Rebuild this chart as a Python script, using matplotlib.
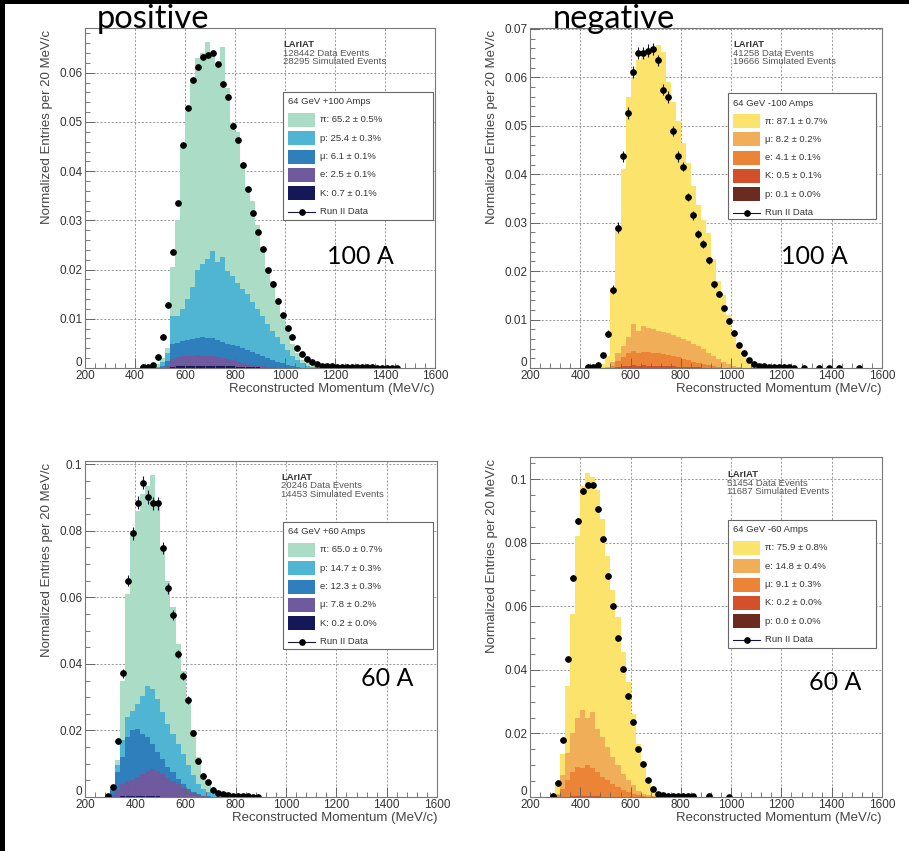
import matplotlib
matplotlib.use("Agg")
import matplotlib.pyplot as plt
import numpy as np
from matplotlib.lines import Line2D
from matplotlib.patches import Rectangle
from matplotlib.ticker import AutoMinorLocator, FuncFormatter, MultipleLocator
from matplotlib.transforms import offset_copy

plt.rcParams["font.family"] = ["Liberation Sans", "DejaVu Sans"]

W, H = 909, 851
BIN = 20  # MeV/c per bin

# ---------------- positive, 100 A ----------------
tl_mc_start = 440
tl_top_pi = [0.0001, 0.0003, 0.0008, 0.0020, 0.0040, 0.0205, 0.0300, 0.0450, 0.0520, 0.0590,
             0.0630, 0.0640, 0.0663, 0.0636, 0.0616, 0.0652, 0.0570, 0.0497, 0.0480, 0.0410,
             0.0367, 0.0340, 0.0290, 0.0245, 0.0204, 0.0177, 0.0136, 0.0102, 0.0075, 0.0048,
             0.0030, 0.0017, 0.0010, 0.0005, 0.0002]
tl_top_p = [0.0000, 0.0001, 0.0003, 0.0012, 0.0030, 0.0105, 0.0105, 0.0120, 0.0140, 0.0165,
            0.0200, 0.0212, 0.0222, 0.0237, 0.0215, 0.0225, 0.0198, 0.0186, 0.0172, 0.0160,
            0.0150, 0.0135, 0.0120, 0.0105, 0.0090, 0.0076, 0.0062, 0.0048, 0.0036, 0.0025,
            0.0016, 0.0010, 0.0005, 0.0002, 0.0001]
tl_top_mu = [0.0, 0.0, 0.0001, 0.0004, 0.0015, 0.0048, 0.0050, 0.0054, 0.0056, 0.0058,
             0.0061, 0.0062, 0.0060, 0.0061, 0.0056, 0.0052, 0.0048, 0.0046, 0.0044, 0.0040,
             0.0036, 0.0033, 0.0029, 0.0025, 0.0021, 0.0017, 0.0013, 0.0010, 0.0007, 0.0004,
             0.0002, 0.0001, 0.0, 0.0, 0.0]
tl_top_e = [0.0, 0.0, 0.0, 0.0001, 0.0004, 0.0018, 0.0022, 0.0024, 0.0025, 0.0025,
            0.0026, 0.0025, 0.0024, 0.0024, 0.0022, 0.0020, 0.0018, 0.0016, 0.0013, 0.0011,
            0.0009, 0.0007, 0.0005, 0.0004, 0.0003, 0.0002, 0.0001, 0.0, 0.0, 0.0,
            0.0, 0.0, 0.0, 0.0, 0.0]
tl_top_K = [0.0, 0.0, 0.0, 0.0, 0.0001, 0.0003, 0.0004, 0.0005, 0.0005, 0.0005,
            0.0005, 0.0005, 0.0005, 0.0005, 0.0005, 0.0004, 0.0004, 0.0004, 0.0003, 0.0003,
            0.0002, 0.0002, 0.0002, 0.0001, 0.0001, 0.0001, 0.0, 0.0, 0.0, 0.0,
            0.0, 0.0, 0.0, 0.0, 0.0]
tl_data_start = 430
tl_data = [0.0002, 0.0003, 0.0006, 0.0022, 0.0063, 0.0129, 0.0235, 0.0335, 0.0454, 0.0529,
           0.0585, 0.0611, 0.0632, 0.0636, 0.0641, 0.0618, 0.0578, 0.0550, 0.0492, 0.0463,
           0.0412, 0.0363, 0.0316, 0.0276, 0.0241, 0.0199, 0.0170, 0.0136, 0.0107, 0.0082,
           0.0063, 0.0041, 0.0029, 0.0019, 0.0012, 0.0008, 0.0005, 0.0004, 0.0004, 0.0003,
           0.0003, 0.0003, 0.0002, 0.0002, 0.0002, 0.0002, 0.0002, 0.0001, 0.0001, 0.0001,
           0.0001, 0.0001]
tl_err = [0.0001, 0.0001, 0.0001, 0.0001, 0.0002, 0.0002, 0.0003, 0.0003, 0.0004, 0.0004,
          0.0004, 0.0004, 0.0004, 0.0004, 0.0004, 0.0004, 0.0004, 0.0004, 0.0004, 0.0004,
          0.0003, 0.0003, 0.0003, 0.0003, 0.0003, 0.0003, 0.0002, 0.0002, 0.0002, 0.0002,
          0.0001, 0.0001, 0.0001, 0.0001, 0.0001, 0.0001, 0.0001, 0.0001, 0.0001, 0.0001,
          0.0001, 0.0001, 0.0001, 0.0001, 0.0001, 0.0001, 0.0001, 0.0001, 0.0001, 0.0001,
          0.0001, 0.0001]
tl_labels = ["π: 65.2 ± 0.5%", "p: 25.4 ± 0.3%", "μ: 6.1 ± 0.1%", "e: 2.5 ± 0.1%", "K: 0.7 ± 0.1%"]

# ---------------- negative, 100 A ----------------
tr_mc_start = 440
tr_top_pi = [0.0001, 0.0003, 0.0008, 0.0025, 0.0165, 0.0290, 0.0410, 0.0560, 0.0600, 0.0636,
             0.0650, 0.0655, 0.0662, 0.0667, 0.0653, 0.0590, 0.0550, 0.0509, 0.0464, 0.0423,
             0.0375, 0.0337, 0.0306, 0.0278, 0.0225, 0.0180, 0.0150, 0.0110, 0.0075, 0.0045,
             0.0025, 0.0012, 0.0005, 0.0002, 0.0001]
tr_top_mu = [0.0, 0.0, 0.0001, 0.0003, 0.0012, 0.0031, 0.0045, 0.0065, 0.0090, 0.0076,
             0.0086, 0.0083, 0.0080, 0.0077, 0.0074, 0.0072, 0.0068, 0.0064, 0.0060, 0.0055,
             0.0049, 0.0045, 0.0039, 0.0032, 0.0025, 0.0018, 0.0012, 0.0008, 0.0005, 0.0002,
             0.0001, 0.0, 0.0, 0.0, 0.0]
tr_top_e = [0.0, 0.0, 0.0, 0.0001, 0.0005, 0.0014, 0.0022, 0.0030, 0.0036, 0.0031,
            0.0034, 0.0033, 0.0032, 0.0030, 0.0029, 0.0027, 0.0025, 0.0022, 0.0019, 0.0016,
            0.0013, 0.0011, 0.0008, 0.0006, 0.0004, 0.0002, 0.0001, 0.0, 0.0, 0.0,
            0.0, 0.0, 0.0, 0.0, 0.0]
tr_top_K = [0.0, 0.0, 0.0, 0.0, 0.0001, 0.0003, 0.0004, 0.0005, 0.0006, 0.0005,
            0.0006, 0.0005, 0.0005, 0.0005, 0.0004, 0.0004, 0.0004, 0.0003, 0.0003, 0.0002,
            0.0002, 0.0002, 0.0001, 0.0001, 0.0001, 0.0, 0.0, 0.0, 0.0, 0.0,
            0.0, 0.0, 0.0, 0.0, 0.0]
tr_top_p = [0.0, 0.0, 0.0, 0.0, 0.0, 0.0001, 0.0001, 0.0001, 0.0001, 0.0001,
            0.0001, 0.0001, 0.0001, 0.0001, 0.0001, 0.0001, 0.0, 0.0, 0.0, 0.0,
            0.0, 0.0, 0.0, 0.0, 0.0, 0.0, 0.0, 0.0, 0.0, 0.0,
            0.0, 0.0, 0.0, 0.0, 0.0]
tr_data_start = 430
tr_data = [0.0002, 0.0003, 0.0007, 0.0026, 0.0071, 0.0162, 0.0290, 0.0437, 0.0527, 0.0611,
           0.0650, 0.0650, 0.0655, 0.0659, 0.0635, 0.0575, 0.0559, 0.0489, 0.0437, 0.0416,
           0.0353, 0.0315, 0.0277, 0.0256, 0.0222, 0.0173, 0.0153, 0.0123, 0.0098, 0.0072,
           0.0047, 0.0031, 0.0017, 0.0008, 0.0005]
tr_err = [0.0001, 0.0002, 0.0003, 0.0005, 0.0007, 0.0009, 0.0011, 0.0012, 0.0012, 0.0013,
          0.0013, 0.0013, 0.0013, 0.0013, 0.0012, 0.0012, 0.0012, 0.0011, 0.0011, 0.0010,
          0.0009, 0.0009, 0.0008, 0.0008, 0.0007, 0.0007, 0.0006, 0.0005, 0.0005, 0.0004,
          0.0003, 0.0003, 0.0002, 0.0001, 0.0001]
tr_tail_x = [1130, 1150, 1170, 1190, 1210, 1230, 1250, 1290, 1350, 1390, 1430, 1510]
tr_tail_y = [0.0004, 0.0003, 0.0003, 0.0002, 0.0002, 0.0002, 0.0001, 0.0001, 0.0001, 0.0001,
             0.0001, 0.0001]
tr_tail_err = [0.0001] * len(tr_tail_x)
tr_labels = ["π: 87.1 ± 0.7%", "μ: 8.2 ± 0.2%", "e: 4.1 ± 0.1%", "K: 0.5 ± 0.1%", "p: 0.1 ± 0.0%"]

# ---------------- positive, 60 A ----------------
bl_mc_start = 280
bl_top_pi = [0.0003, 0.0020, 0.0110, 0.0350, 0.0610, 0.0790, 0.0860, 0.0910, 0.0935, 0.0968,
             0.0890, 0.0750, 0.0650, 0.0570, 0.0460, 0.0380, 0.0295, 0.0200, 0.0120, 0.0065,
             0.0035, 0.0015, 0.0007, 0.0002]
bl_top_p = [0.0001, 0.0025, 0.0095, 0.0170, 0.0240, 0.0260, 0.0280, 0.0305, 0.0335, 0.0325,
            0.0295, 0.0255, 0.0220, 0.0190, 0.0160, 0.0130, 0.0095, 0.0065, 0.0040, 0.0025,
            0.0015, 0.0008, 0.0003, 0.0001]
bl_top_e = [0.0, 0.0020, 0.0075, 0.0120, 0.0180, 0.0200, 0.0205, 0.0190, 0.0180, 0.0160,
            0.0135, 0.0115, 0.0090, 0.0075, 0.0055, 0.0040, 0.0025, 0.0015, 0.0008, 0.0004,
            0.0002, 0.0001, 0.0, 0.0]
bl_top_mu = [0.0, 0.0005, 0.0020, 0.0040, 0.0048, 0.0052, 0.0060, 0.0070, 0.0078, 0.0085,
             0.0078, 0.0068, 0.0058, 0.0048, 0.0038, 0.0028, 0.0018, 0.0011, 0.0006, 0.0003,
             0.0001, 0.0, 0.0, 0.0]
bl_top_K = [0.0, 0.0, 0.0001, 0.0002, 0.0002, 0.0002, 0.0002, 0.0002, 0.0002, 0.0002,
            0.0002, 0.0001, 0.0001, 0.0001, 0.0001, 0.0, 0.0, 0.0, 0.0, 0.0,
            0.0, 0.0, 0.0, 0.0]
bl_data_start = 290
bl_data = [0.0003, 0.0030, 0.0168, 0.0372, 0.0650, 0.0793, 0.0885, 0.0945, 0.0902, 0.0883,
           0.0883, 0.0748, 0.0627, 0.0548, 0.0430, 0.0365, 0.0292, 0.0192, 0.0108, 0.0062,
           0.0045, 0.0020, 0.0013, 0.0010, 0.0007, 0.0004, 0.0003, 0.0002, 0.0002, 0.0001,
           0.0001]
bl_err = [0.0001, 0.0004, 0.0009, 0.0013, 0.0017, 0.0019, 0.0020, 0.0020, 0.0020, 0.0020,
          0.0020, 0.0018, 0.0017, 0.0015, 0.0013, 0.0012, 0.0011, 0.0009, 0.0007, 0.0005,
          0.0004, 0.0003, 0.0002, 0.0002, 0.0001, 0.0001, 0.0001, 0.0001, 0.0001, 0.0001,
          0.0001]
bl_labels = ["π: 65.0 ± 0.7%", "p: 14.7 ± 0.3%", "e: 12.3 ± 0.3%", "μ: 7.8 ± 0.2%", "K: 0.2 ± 0.0%"]

# ---------------- negative, 60 A ----------------
br_mc_start = 280
br_top_pi = [0.0002, 0.0040, 0.0136, 0.0350, 0.0577, 0.0820, 0.0980, 0.1020, 0.1007, 0.0967,
             0.0876, 0.0760, 0.0650, 0.0567, 0.0456, 0.0362, 0.0262, 0.0168, 0.0090, 0.0042,
             0.0021, 0.0010, 0.0004, 0.0001]
br_top_e = [0.0, 0.0010, 0.0068, 0.0140, 0.0200, 0.0250, 0.0273, 0.0250, 0.0268, 0.0215,
            0.0190, 0.0157, 0.0126, 0.0100, 0.0073, 0.0052, 0.0037, 0.0020, 0.0010, 0.0005,
            0.0002, 0.0001, 0.0, 0.0]
br_top_mu = [0.0, 0.0005, 0.0026, 0.0052, 0.0079, 0.0094, 0.0090, 0.0100, 0.0090, 0.0079,
             0.0063, 0.0052, 0.0042, 0.0031, 0.0023, 0.0016, 0.0010, 0.0005, 0.0002, 0.0001,
             0.0, 0.0, 0.0, 0.0]
br_top_K = [0.0, 0.0, 0.0001, 0.0001, 0.0002, 0.0002, 0.0002, 0.0002, 0.0002, 0.0002,
            0.0001, 0.0001, 0.0001, 0.0, 0.0, 0.0, 0.0, 0.0, 0.0, 0.0,
            0.0, 0.0, 0.0, 0.0]
br_top_p = [0.0] * 24
br_data_start = 290
br_data = [0.0003, 0.0045, 0.0178, 0.0435, 0.0690, 0.0869, 0.0963, 0.0983, 0.0981, 0.0906,
           0.0813, 0.0696, 0.0600, 0.0500, 0.0404, 0.0317, 0.0236, 0.0152, 0.0103, 0.0055,
           0.0026, 0.0010, 0.0005, 0.0003, 0.0002, 0.0002, 0.0002, 0.0002, 0.0002]
br_err = [0.0001, 0.0003, 0.0005, 0.0007, 0.0008, 0.0009, 0.0009, 0.0009, 0.0009, 0.0009,
          0.0008, 0.0008, 0.0007, 0.0007, 0.0006, 0.0005, 0.0005, 0.0004, 0.0003, 0.0002,
          0.0002, 0.0001, 0.0001, 0.0001, 0.0001, 0.0001, 0.0001, 0.0001, 0.0001]
br_tail_x = [910, 990]
br_tail_y = [0.0002, 0.0001]
br_tail_err = [0.0001, 0.0001]
br_labels = ["π: 75.9 ± 0.8%", "e: 14.8 ± 0.4%", "μ: 9.1 ± 0.3%", "K: 0.2 ± 0.0%", "p: 0.0 ± 0.0%"]

pos_colors = ["#aadcc6", "#4fb5d3", "#2f7fbc", "#6f5a9f", "#141858"]
neg_colors = ["#fbe36c", "#f1ae58", "#ec8437", "#d4502a", "#6b2c1f"]

DATA_COLOR = "#15153a"
TXT = "#333333"


def fpx(x, y):
    """figure pixel (from top-left) -> figure fraction"""
    return x / W, 1 - y / H


def draw_legend(fig, lbox, title, labels, colors):
    lx, ly, rx, by = lbox
    fig.add_artist(Rectangle(fpx(lx, by), (rx - lx) / W, (by - ly) / H,
                             transform=fig.transFigure, facecolor="white",
                             edgecolor="#666666", lw=0.8, zorder=6))
    fig.text(*fpx(lx + 5, ly + 10), title, fontsize=6.8, color=TXT,
             ha="left", va="center", zorder=8)
    for i, (lab, c) in enumerate(zip(labels, colors)):
        cy = ly + 28 + 18.3 * i
        fig.add_artist(Rectangle(fpx(lx + 5, cy + 7), 27 / W, 14 / H,
                                 transform=fig.transFigure, facecolor=c,
                                 edgecolor="none", zorder=7))
        fig.text(*fpx(lx + 37, cy), lab, fontsize=6.8, color=TXT,
                 ha="left", va="center", zorder=8)
    cy = ly + 28 + 18.3 * 5
    fig.add_artist(Line2D([(lx + 5) / W, (lx + 32) / W], [1 - cy / H] * 2,
                          transform=fig.transFigure, color=DATA_COLOR, lw=0.8, zorder=7))
    fig.add_artist(Line2D([(lx + 18.5) / W], [1 - cy / H], marker="o", ms=3.8,
                          color="black", transform=fig.transFigure, zorder=8))
    fig.text(*fpx(lx + 37, cy), "Run II Data", fontsize=6.8, color=TXT,
             ha="left", va="center", zorder=8)


def ytick_fmt(v, pos):
    # the zero label is drawn separately, just above the corner
    if abs(v) < 1e-9:
        return ""
    return f"{round(v, 4):g}"


def draw_panel(fig, box, ymax, ystep, yminor, mc_start, tops, colors,
               data_start, data, err, tail_x, tail_y, tail_err,
               lbox, title, labels, lariat_xy, counts, note, note_xy):
    l, t, r, b = box
    ax = fig.add_axes([l / W, 1 - b / H, (r - l) / W, (b - t) / H])
    ax.set_xlim(200, 1600)
    ax.set_ylim(0, ymax)

    # dashed grid behind the stack
    for xv in range(400, 1600, 200):
        ax.axvline(xv, color="#8a8a8a", lw=0.6, ls=(0, (2.5, 2)), zorder=0.3)
    for yv in np.arange(ystep, ymax, ystep):
        ax.axhline(yv, color="#8a8a8a", lw=0.6, ls=(0, (2.5, 2)), zorder=0.3)

    # stacked MC, drawn from the total down
    edges = mc_start + BIN * np.arange(len(tops[0]) + 1)
    for vals, c in zip(tops, colors):
        ax.stairs(vals, edges, fill=True, color=c, lw=0, zorder=1)

    x = list(data_start + BIN * np.arange(len(data))) + list(tail_x)
    y = list(data) + list(tail_y)
    e = list(err) + list(tail_err)
    ax.errorbar(x, y, yerr=e, xerr=BIN / 2, fmt="o", ms=3.8, mfc="black", mec="black",
                ecolor=DATA_COLOR, elinewidth=0.8, capsize=0, zorder=4)

    ax.xaxis.set_major_locator(MultipleLocator(200))
    ax.xaxis.set_minor_locator(AutoMinorLocator(5))
    ax.yaxis.set_major_locator(MultipleLocator(ystep))
    ax.yaxis.set_minor_locator(AutoMinorLocator(yminor))
    ax.yaxis.set_major_formatter(FuncFormatter(ytick_fmt))
    ax.tick_params(which="both", direction="in", colors="#666666", labelcolor=TXT,
                   labelsize=8.5)
    ax.tick_params(which="major", length=7, width=0.7)
    ax.tick_params(which="minor", length=3.5, width=0.6)
    ax.tick_params(axis="x", pad=1.5)
    ax.tick_params(axis="y", pad=2)
    for s in ax.spines.values():
        s.set_color("#777777")
        s.set_linewidth(0.8)
        s.set_zorder(5)
    zero_tr = offset_copy(ax.get_yaxis_transform(), fig=fig, x=-3, y=-1, units="dots")
    ax.text(0, 0, "0", transform=zero_tr, fontsize=8.5, color=TXT, ha="right", va="bottom")

    ax.set_xlabel("Reconstructed Momentum (MeV/c)", loc="right", fontsize=9.5, color="#444444")
    ax.xaxis.set_label_coords(1.0, -15 / (b - t))
    ax.set_ylabel("Normalized Entries per 20 MeV/c", loc="top", fontsize=9.5, color="#444444")
    ax.yaxis.set_label_coords(-32 / (r - l), 1 - 2 / (b - t))

    lx, ly = lariat_xy
    fig.text(*fpx(lx, ly), "LArIAT", fontsize=6.8, fontweight="bold", color=TXT,
             ha="left", va="top", zorder=5)
    for i, line in enumerate(counts):
        fig.text(*fpx(lx, ly + 8.5 * (i + 1)), line, fontsize=6.8, color="#555555",
                 ha="left", va="top", zorder=5)

    draw_legend(fig, lbox, title, labels, colors)
    fig.text(*fpx(*note_xy), note, fontsize=18, family=["Lato", "DejaVu Sans"],
             ha="center", va="center", color="black", zorder=9)
    return ax


fig = plt.figure(figsize=(W / 100, H / 100), dpi=100)
fig.patch.set_facecolor("white")

draw_panel(fig, (85, 28, 435, 368), 0.0691, 0.01, 5, tl_mc_start,
           [tl_top_pi, tl_top_p, tl_top_mu, tl_top_e, tl_top_K], pos_colors,
           tl_data_start, tl_data, tl_err, [], [], [],
           (283, 92, 433, 220), "64 GeV +100 Amps", tl_labels, (283, 40),
           ["128442 Data Events", "28295 Simulated Events"], "100 A", (360, 257))

draw_panel(fig, (530, 28, 882, 368), 0.0702, 0.01, 5, tr_mc_start,
           [tr_top_pi, tr_top_mu, tr_top_e, tr_top_K, tr_top_p], neg_colors,
           tr_data_start, tr_data, tr_err, tr_tail_x, tr_tail_y, tr_tail_err,
           (728, 93, 876, 219), "64 GeV -100 Amps", tr_labels, (733, 40),
           ["41258 Data Events", "19666 Simulated Events"], "100 A", (814, 257))

draw_panel(fig, (85, 461, 437, 797), 0.101, 0.02, 4, bl_mc_start,
           [bl_top_pi, bl_top_p, bl_top_e, bl_top_mu, bl_top_K], pos_colors,
           bl_data_start, bl_data, bl_err, [], [], [],
           (283, 522, 433, 649), "64 GeV +60 Amps", bl_labels, (281, 473),
           ["20246 Data Events", "14453 Simulated Events"], "60 A", (387, 678))

draw_panel(fig, (530, 457, 882, 797), 0.107, 0.02, 4, br_mc_start,
           [br_top_pi, br_top_e, br_top_mu, br_top_K, br_top_p], neg_colors,
           br_data_start, br_data, br_err, br_tail_x, br_tail_y, br_tail_err,
           (728, 520, 876, 648), "64 GeV -60 Amps", br_labels, (727, 470),
           ["51454 Data Events", "11687 Simulated Events"], "60 A", (835, 683))

fig.text(*fpx(97, 28), "positive", fontsize=23.5, family=["Lato", "DejaVu Sans"],
         ha="left", va="baseline", color="black", zorder=9)
fig.text(*fpx(553, 28), "negative", fontsize=23.5, family=["Lato", "DejaVu Sans"],
         ha="left", va="baseline", color="black", zorder=9)

# black slide border along the top and left edges
fig.add_artist(Rectangle((0, 1 - 4 / H), 1, 4 / H, transform=fig.transFigure,
                         facecolor="black", edgecolor="none", zorder=10))
fig.add_artist(Rectangle((0, 0), 5 / W, 1, transform=fig.transFigure,
                         facecolor="black", edgecolor="none", zorder=10))

fig.savefig("out.png", dpi=100)
